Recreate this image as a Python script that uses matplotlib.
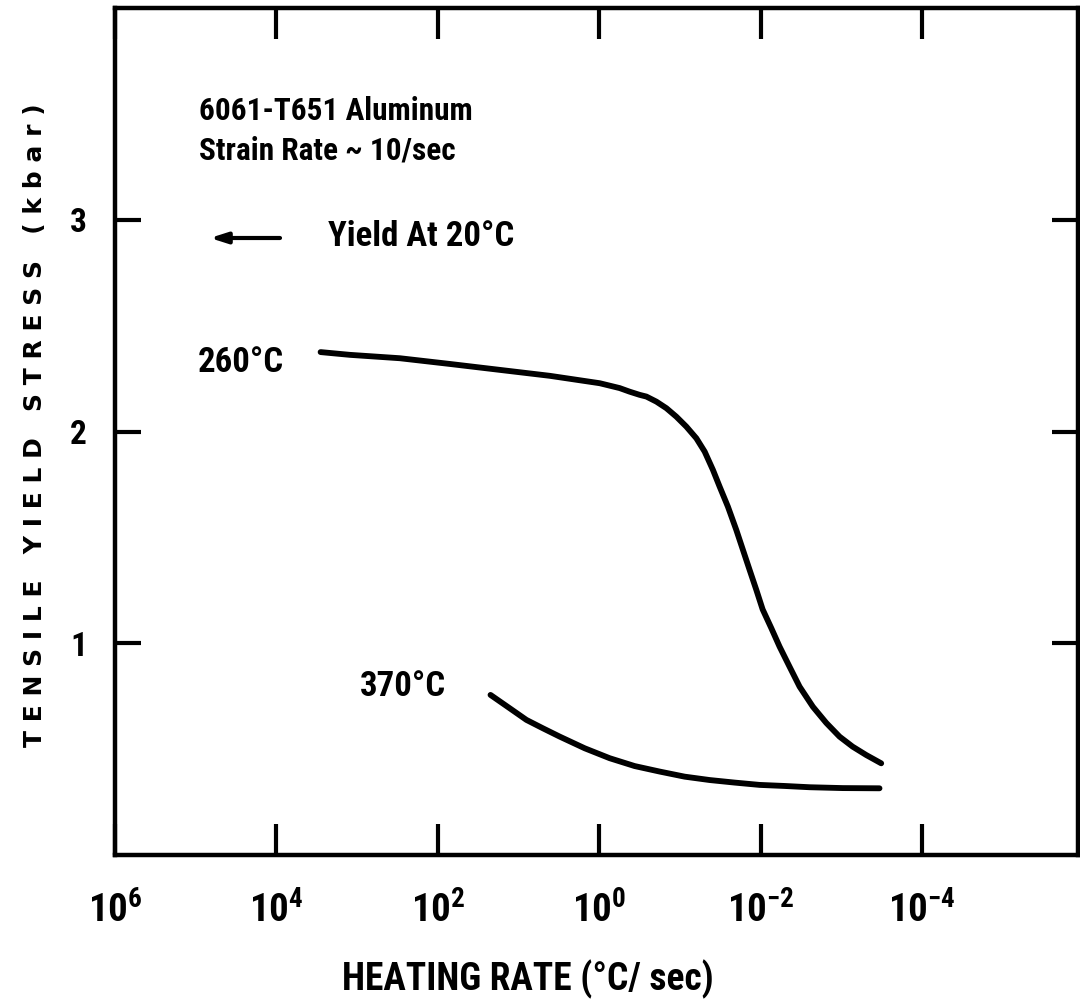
import matplotlib
matplotlib.use("Agg")
import matplotlib.pyplot as plt
from matplotlib import font_manager
import numpy as np

# ---------------- data ----------------
# log10 of heating rate (deg C / sec) and tensile yield stress (kbar)
c260_log_rate = [3.453, 3.091, 2.471, 1.852, 1.233, 0.614, -0.005, -0.252, -0.376,
                 -0.500, -0.583, -0.707, -0.831, -0.954, -1.078, -1.202, -1.305,
                 -1.407, -1.490, -1.593, -1.697, -1.779, -1.862, -1.945, -2.023,
                 -2.131, -2.233, -2.357, -2.481, -2.646, -2.811, -2.976, -3.137,
                 -3.307, -3.492]
c260_stress = [2.375, 2.362, 2.346, 2.319, 2.291, 2.263, 2.228, 2.205, 2.188,
               2.173, 2.165, 2.141, 2.110, 2.070, 2.023, 1.968, 1.905,
               1.819, 1.740, 1.645, 1.535, 1.441, 1.346, 1.252, 1.160,
               1.071, 0.984, 0.889, 0.795, 0.700, 0.624, 0.559, 0.512,
               0.472, 0.433]

c370_log_rate = [1.348, 1.110, 0.903, 0.697, 0.490, 0.181, -0.129, -0.438, -0.748,
                 -1.057, -1.367, -1.676, -1.986, -2.295, -2.605, -3.017, -3.471]
c370_stress = [0.756, 0.693, 0.638, 0.598, 0.559, 0.504, 0.457, 0.420, 0.394,
               0.370, 0.354, 0.342, 0.331, 0.326, 0.320, 0.316, 0.315]

x_tick_exps = [6, 4, 2, 0, -2, -4]
y_ticks = [1, 2, 3]
y_tick_labels = ["1", "2", "3"]

# ---------------- fonts ----------------
available = {f.name for f in font_manager.fontManager.ttflist}
narrow = "DejaVu Sans"
for cand in ["Roboto Condensed", "Liberation Sans Narrow", "Open Sans Condensed", "DejaVu Sans"]:
    if cand in available:
        narrow = cand
        break
NARROW = [narrow, "DejaVu Sans"]
WIDE = ["DejaVu Sans"]

plt.rcParams["font.family"] = NARROW
plt.rcParams["mathtext.default"] = "regular"

fig = plt.figure(figsize=(10.8, 10.08), dpi=100)
ax = fig.add_axes([115 / 1080, 1 - 855 / 1008, 963 / 1080, 847 / 1008])

ink = "#000000"
ax.plot(10.0 ** np.array(c260_log_rate), c260_stress, color=ink, lw=4.2,
        solid_capstyle="round", solid_joinstyle="round")
ax.plot(10.0 ** np.array(c370_log_rate), c370_stress, color=ink, lw=4.2,
        solid_capstyle="round", solid_joinstyle="round")

ax.set_xscale("log")
ax.set_xlim(1e6, 10 ** -5.93)
ax.set_ylim(0, 4)

ax.xaxis.set_minor_locator(matplotlib.ticker.NullLocator())
ax.set_xticks([10.0 ** e for e in x_tick_exps])
ax.set_xticklabels(["$10^{%s}$" % (str(e) if e >= 0 else "-" + str(-e)) for e in x_tick_exps],
                   fontsize=28, fontweight="bold")
ax.set_yticks(y_ticks)
ax.set_yticklabels(y_tick_labels, fontsize=24, fontweight="bold")

for s in ax.spines.values():
    s.set_linewidth(3.2)
    s.set_color(ink)

ax.tick_params(axis="x", which="major", direction="in", length=22, width=3,
               top=True, bottom=True, pad=26, colors=ink)
ax.tick_params(axis="y", which="major", direction="in", length=19, width=3,
               left=True, right=True, pad=20, colors=ink)

ax.set_xlabel("HEATING RATE (°C/ sec)", fontsize=27, fontweight="bold")
ax.xaxis.set_label_coords((528 - 115) / 963, (855 - 960) / 847)
ax.set_ylabel("T E N S I L E   Y I E L D   S T R E S S   ( k b a r )",
              fontsize=18, fontweight="bold", family=WIDE)
ax.yaxis.set_label_coords((47 - 115) / 963, (855 - 425) / 847)

def fx(px):
    return (px - 115) / 963

def fy(py):
    return (855 - py) / 847

tkw = dict(transform=ax.transAxes, fontweight="bold", color=ink,
           va="center", ha="left")
ax.text(fx(199), fy(111), "6061-T651 Aluminum", fontsize=22.5, **tkw)
ax.text(fx(199), fy(151), "Strain Rate ~ 10/sec", fontsize=22.5, **tkw)
ax.text(fx(328), fy(236), "Yield At 20°C", fontsize=25, **tkw)
ax.text(fx(198), fy(362), "260°C", fontsize=25, **tkw)
ax.text(fx(360), fy(686), "370°C", fontsize=25, **tkw)

ax.annotate("", xy=(fx(210), fy(238)), xytext=(fx(280), fy(238)),
            xycoords="axes fraction", textcoords="axes fraction",
            arrowprops=dict(arrowstyle="-|>,head_length=1.0,head_width=0.32",
                            lw=3, color=ink, shrinkA=0, shrinkB=0))

fig.savefig("out.png", dpi=100, facecolor="white")
